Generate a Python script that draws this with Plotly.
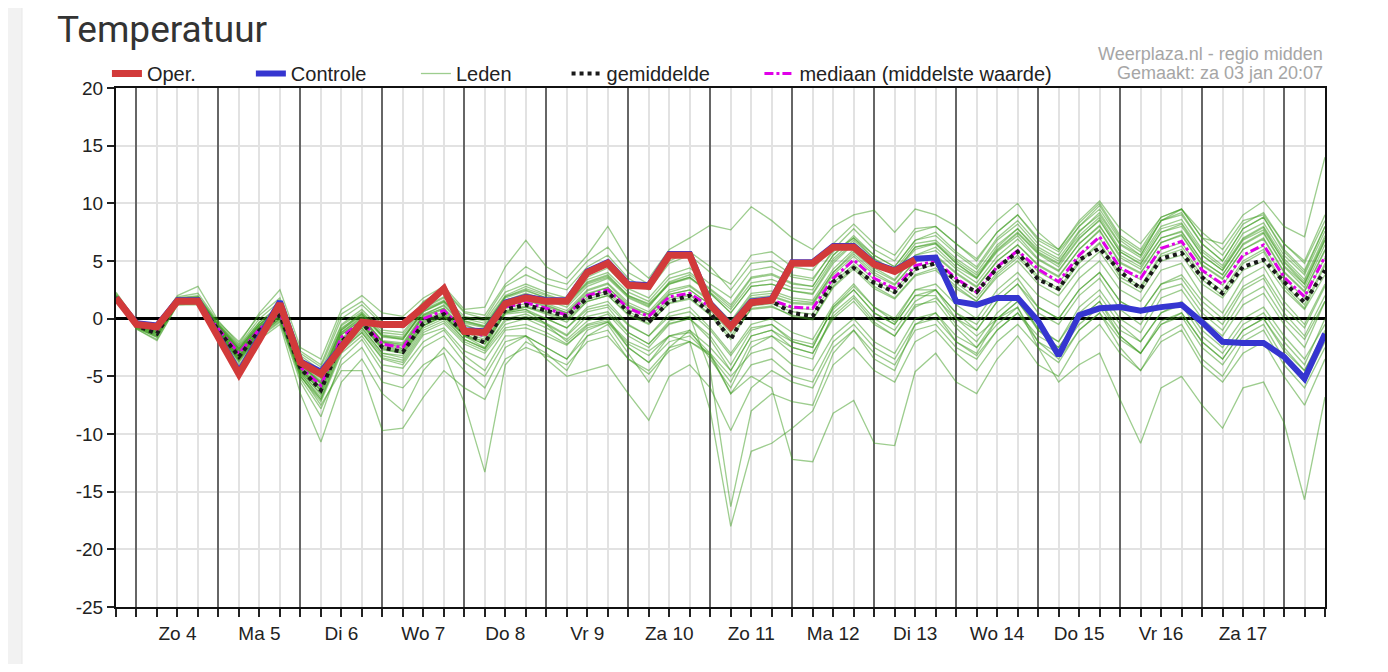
import pandas as pd
import plotly.graph_objects as go

# 6-hourly steps starting za 3 jan 18:00
start = pd.Timestamp("2026-01-03 18:00")
times = pd.date_range(start, periods=60, freq="6h")

day_labels = ["Zo 4", "Ma 5", "Di 6", "Wo 7", "Do 8", "Vr 9", "Za 10",
              "Zo 11", "Ma 12", "Di 13", "Wo 14", "Do 15", "Vr 16", "Za 17"]
day_noons = pd.date_range("2026-01-04 12:00", periods=len(day_labels), freq="D")

y_ticks = [20, 15, 10, 5, 0, -5, -10, -15, -20, -25]

oper = [1.8, -0.5, -0.7, 1.5, 1.5, -1.6, -4.8, -1.8, 1.3, -3.8,
        -4.8, -2.5, -0.3, -0.5, -0.5, 1.0, 2.6, -1.1, -1.2, 1.3,
        1.8, 1.5, 1.5, 4.0, 4.8, 2.9, 2.8, 5.5, 5.5, 1.2,
        -0.7, 1.4, 1.6, 4.8, 4.8, 6.2, 6.2, 4.7, 4.1, 5.1]

controle = [1.8, -0.4, -0.6, 1.6, 1.6, -1.5, -4.6, -1.6, 1.5, -3.7,
            -4.6, -2.4, -0.3, -0.5, -0.5, 1.0, 2.6, -1.0, -1.1, 1.4,
            1.9, 1.6, 1.6, 4.1, 4.9, 3.0, 2.9, 5.6, 5.6, 1.3,
            -0.6, 1.5, 1.7, 4.9, 4.9, 6.3, 6.3, 4.8, 4.2, 5.2,
            5.3, 1.5, 1.2, 1.8, 1.8, -0.2, -3.2, 0.3, 0.9, 1.0,
            0.7, 1.0, 1.2, -0.3, -2.0, -2.1, -2.1, -3.3, -5.2, -1.3]

gemiddelde = [1.8, -0.6, -1.3, 1.5, 1.5, -1.0, -3.3, -1.0, 0.3, -4.3,
              -6.2, -2.0, -0.3, -2.5, -2.9, -0.4, 0.4, -1.2, -2.1, 0.8,
              1.2, 0.7, 0.2, 1.8, 2.3, 0.6, -0.3, 1.5, 2.0, 0.5,
              -1.8, 1.3, 1.5, 0.5, 0.2, 3.2, 4.4, 3.1, 2.3, 4.3,
              4.8, 3.3, 2.3, 4.4, 5.8, 3.4, 2.6, 5.1, 6.1, 4.1,
              2.6, 5.2, 5.7, 3.6, 2.2, 4.5, 5.1, 3.2, 1.4, 4.2]

mediaan = [1.8, -0.5, -1.0, 1.5, 1.5, -0.9, -3.0, -0.9, 0.5, -4.2,
           -5.8, -1.6, -0.2, -2.2, -2.5, 0.0, 0.7, -1.0, -1.5, 1.0,
           1.4, 0.9, 0.3, 2.0, 2.5, 0.9, 0.2, 1.9, 2.2, 1.0,
           -0.8, 1.4, 1.6, 1.0, 0.9, 3.5, 5.1, 3.5, 2.6, 4.6,
           5.0, 3.5, 2.3, 4.5, 5.9, 4.3, 3.2, 5.5, 7.1, 4.4,
           3.5, 6.1, 6.7, 4.2, 3.0, 5.5, 6.4, 3.6, 1.9, 5.4]

# ensemble members (Leden)
leden = [
    [2.0, -0.3, -0.8, 1.7, 1.8, -0.6, -2.6, -0.5, 0.9, -3.6, -5.0, -0.8, 0.4, -1.5, -1.8, 0.8, 1.6, -0.2, -0.7, 1.9,
     2.5, 1.8, 1.3, 3.2, 3.8, 2.0, 1.2, 3.0, 3.5, 2.2, 0.5, 2.8, 3.0, 2.4, 2.1, 4.8, 6.5, 4.9, 3.9, 6.0,
     6.5, 4.8, 3.6, 5.9, 7.4, 5.6, 4.5, 6.9, 8.6, 5.8, 4.7, 7.5, 8.2, 5.5, 4.2, 6.9, 7.9, 4.9, 3.0, 6.8],
    [1.6, -0.8, -1.6, 1.3, 1.3, -1.3, -3.6, -1.4, 0.0, -5.0, -7.0, -2.6, -1.2, -3.5, -4.0, -1.4, -0.8, -2.8, -3.6, -1.0,
     -0.8, -1.5, -2.3, -0.6, -0.2, -2.0, -2.8, -1.5, -2.0, -8.0, -18.0, -11.5, -10.8, -9.5, -8.0, -4.0, -2.5, -4.5, -5.5, -2.0,
     -1.0, -3.0, -4.5, -2.0, -0.5, -2.5, -3.8, -1.0, 0.5, -1.8, -3.0, -0.2, 0.5, -2.0, -3.5, -1.0, 0.0, -2.8, -4.5, -1.0],
    [1.7, -0.6, -1.2, 1.4, 1.6, -1.0, -3.4, -1.1, 0.4, -4.6, -6.5, -2.2, -0.8, -3.0, -3.2, -0.6, 0.2, -1.8, -2.6, 0.0,
     0.4, -0.4, -1.4, 0.6, 1.0, -1.2, -2.2, -0.2, 0.2, -4.5, -16.3, -8.0, -6.5, -7.2, -7.5, -3.0, -1.0, -3.5, -4.5, -0.5,
     0.5, -2.0, -3.0, 0.0, 1.5, -0.8, -2.0, 1.0, 2.5, 0.0, -1.2, 1.8, 2.5, 0.0, -1.5, 1.2, 2.2, -0.5, -2.5, 1.5],
    [1.9, -0.4, -1.1, 1.6, 1.5, -0.8, -2.9, -0.7, 0.7, -4.0, -5.5, -1.2, 0.2, -2.0, -2.6, 0.3, 0.9, -1.5, -2.5, 0.5,
     0.8, -0.5, -2.0, -0.5, 0.0, -2.5, -3.8, -2.0, -1.5, -3.2, -6.5, -5.0, -6.0, -12.2, -12.4, -8.2, -7.1, -10.8, -11.0, -4.6,
     -3.0, -5.5, -6.5, -3.5, -1.5, -4.0, -5.0, -2.0, -0.5, -3.0, -4.5, -1.5, -0.5, -3.5, -5.0, -2.0, -1.0, -4.0, -6.0, -2.5],
    [2.3, -0.2, -0.5, 2.0, 2.8, -0.2, -2.2, 0.5, 2.5, -2.5, -3.5, 0.8, 2.0, 0.5, 0.2, 1.8, 2.8, 0.8, 1.0, 4.5,
     6.8, 4.5, 3.5, 5.5, 8.0, 5.0, 3.5, 6.0, 7.0, 8.1, 7.7, 9.7, 8.5, 7.0, 6.0, 8.0, 9.0, 9.4, 7.5, 9.5,
     9.0, 8.0, 6.5, 8.5, 10.0, 7.5, 6.0, 8.5, 10.2, 7.8, 6.5, 8.8, 9.5, 7.5, 6.0, 8.5, 9.0, 6.5, 5.0, 9.0],
    [1.8, -0.7, -1.5, 1.4, 1.4, -1.2, -3.8, -1.5, -0.2, -5.2, -7.8, -4.0, -2.5, -5.5, -6.0, -4.0, -3.0, -7.3, -13.3, -4.0,
     -2.0, -3.0, -4.5, -1.5, -0.5, -3.0, -5.5, -2.5, -1.0, -3.5, -6.0, -2.5, -1.5, -3.0, -3.5, 0.5, 2.0, 0.0, -1.0, 1.5,
     2.5, 0.5, -0.5, 2.0, 3.5, 1.0, 0.0, 2.5, 4.0, 1.5, 0.5, 3.0, 3.5, 1.0, -0.5, 2.5, 3.5, 0.5, -1.5, 2.0],
    [1.9, -0.5, -0.9, 1.5, 1.6, -0.8, -2.8, -0.7, 0.6, -3.9, -5.6, -1.3, 0.0, -2.0, -2.2, 0.3, 1.2, -0.5, -1.2, 1.3,
     1.8, 1.2, 0.5, 2.4, 3.0, 1.2, 0.4, 2.3, 2.8, 1.5, -0.3, 2.0, 2.2, 1.6, 1.4, 4.0, 5.6, 4.0, 3.0, 5.0,
     5.5, 4.0, 2.8, 5.0, 6.4, 4.6, 3.6, 6.0, 7.6, 4.8, 3.9, 6.6, 7.2, 4.6, 3.4, 6.0, 6.9, 4.0, 2.3, 5.9],
    [1.7, -0.7, -1.4, 1.4, 1.5, -1.1, -3.5, -1.2, 0.2, -4.8, -6.8, -2.5, -1.0, -3.2, -3.6, -1.0, -0.2, -2.0, -2.8, -0.5,
     0.0, -0.8, -1.8, -0.2, 0.4, -1.5, -2.5, -0.5, 0.0, -1.5, -4.0, -1.0, -0.5, -2.0, -2.5, 1.0, 2.5, 0.5, -0.5, 2.0,
     2.5, 0.5, -1.0, 1.5, 3.0, 0.5, -0.5, 2.0, 3.5, 0.8, -0.5, 2.5, 3.0, 0.5, -1.0, 1.8, 2.8, 0.0, -1.8, 1.5],
    [1.8, -0.4, -0.8, 1.6, 1.7, -0.7, -2.7, -0.6, 0.8, -3.8, -5.2, -1.0, 0.3, -1.6, -1.8, 0.6, 1.4, -0.4, -0.8, 1.6,
     2.2, 1.6, 1.0, 2.8, 3.5, 1.8, 1.0, 3.2, 3.8, 2.5, 1.0, 3.5, 3.8, 3.0, 2.8, 5.5, 7.2, 5.5, 4.5, 6.8,
     7.5, 5.8, 4.5, 7.0, 8.5, 6.5, 5.5, 8.0, 9.5, 6.8, 5.5, 8.5, 9.0, 6.5, 5.0, 7.8, 8.8, 6.0, 4.2, 8.0],
    [1.6, -0.9, -1.8, 1.2, 1.3, -1.4, -4.0, -1.6, -0.3, -5.5, -8.5, -3.5, -1.8, -4.5, -5.0, -2.5, -1.5, -3.8, -5.0, -2.0,
     -1.5, -2.5, -3.5, -1.5, -1.0, -3.5, -4.5, -2.5, -2.0, -3.0, -5.0, -3.0, -2.5, -4.0, -4.5, -1.5, 0.0, -2.0, -3.0, 0.0,
     0.5, -1.5, -2.5, 0.0, 1.5, -1.0, -2.0, 0.5, 2.0, -0.5, -2.0, 0.5, 1.2, -1.5, -3.0, -0.5, 0.5, -2.0, -4.0, 0.0],
    [1.8, -0.6, -1.1, 1.5, 1.4, -1.0, -3.2, -1.0, 0.4, -4.4, -6.0, -1.8, -0.4, -2.5, -2.8, -0.3, 0.4, -1.4, -2.0, 0.6,
     1.0, 0.4, -0.3, 1.5, 2.0, 0.3, -0.5, 1.4, 1.8, 0.4, -1.5, 0.8, 1.0, 0.3, 0.0, 2.8, 4.5, 2.8, 1.8, 3.8,
     4.4, 2.8, 1.5, 3.8, 5.3, 3.5, 2.4, 4.8, 6.5, 3.6, 2.6, 5.4, 6.0, 3.4, 2.0, 4.8, 5.8, 2.8, 0.9, 4.6],
    [2.0, -0.3, -0.6, 1.8, 1.9, -0.5, -2.4, -0.3, 1.2, -3.2, -4.5, -0.5, 0.8, -1.0, -1.2, 1.0, 1.9, 0.2, -0.2, 2.3,
     3.0, 2.3, 1.8, 3.6, 4.4, 2.6, 1.8, 3.8, 4.4, 3.0, 1.8, 4.2, 4.5, 3.6, 3.3, 6.0, 7.8, 6.0, 5.0, 7.5,
     8.0, 6.5, 5.2, 7.5, 9.0, 7.0, 6.0, 8.3, 10.0, 7.2, 6.0, 8.8, 9.5, 7.0, 5.5, 8.2, 9.2, 6.5, 4.8, 8.5],
    [1.7, -0.6, -1.3, 1.4, 1.5, -1.0, -3.3, -1.0, 0.3, -4.5, -6.2, -2.0, -0.5, -2.6, -3.0, -0.6, 0.3, -1.5, -2.2, 0.5,
     0.8, 0.0, -0.8, 1.0, 1.5, -0.5, -1.5, 0.5, 1.0, -0.8, -3.0, -0.5, 0.0, -1.2, -1.8, 1.2, 3.0, 1.0, 0.0, 2.5,
     2.5, 0.0, -1.5, 0.0, 1.0, -2.5, -5.5, -4.0, -3.0, -7.0, -10.8, -6.0, -5.0, -7.5, -9.5, -6.0, -5.5, -9.0, -15.7, -6.8],
    [1.9, -0.4, -0.9, 1.6, 1.6, -0.8, -2.9, -0.8, 0.6, -4.0, -5.6, -1.4, -0.1, -2.1, -2.4, 0.1, 0.8, -0.9, -1.4, 1.1,
     1.6, 1.0, 0.4, 2.1, 2.7, 1.0, 0.3, 2.1, 2.5, 1.2, -0.5, 1.8, 2.0, 1.4, 1.3, 4.0, 5.8, 4.2, 3.3, 5.5,
     6.2, 4.5, 3.5, 6.2, 7.8, 5.8, 4.8, 7.5, 9.2, 6.5, 5.5, 8.5, 9.5, 7.0, 6.5, 9.0, 10.2, 8.0, 7.1, 14.0],
    [1.8, -0.5, -1.0, 1.6, 1.5, -0.8, -2.9, -0.8, 0.5, -4.1, -5.7, -1.4, -0.1, -2.0, -2.3, 0.2, 0.9, -0.8, -1.3, 1.2,
     1.6, 1.1, 0.5, 2.2, 2.7, 1.1, 0.4, 2.1, 2.5, 1.2, -0.6, 1.6, 1.9, 1.3, 1.2, 3.8, 5.4, 3.8, 2.9, 5.0,
     5.4, 3.9, 2.7, 5.0, 6.4, 4.7, 3.7, 6.0, 7.7, 4.9, 4.0, 6.6, 7.3, 4.7, 3.5, 6.0, 7.0, 4.1, 2.4, 6.0],
    [1.6, -0.8, -1.5, 1.3, 1.4, -1.2, -3.6, -1.3, 0.0, -4.9, -7.5, -4.5, -4.5, -9.7, -9.5, -6.8, -4.5, -6.0, -7.0, -3.5,
     -2.5, -3.2, -4.0, -2.0, -1.5, -3.5, -4.8, -2.8, -2.0, -3.2, -5.5, -2.0, -1.5, -2.5, -3.0, 0.0, 1.5, -0.5, -1.5, 1.0,
     1.8, 0.0, -1.0, 1.5, 3.0, 1.0, 0.0, 2.5, 4.0, 1.5, 0.5, 3.0, 3.8, 1.5, 0.0, 2.8, 3.8, 1.0, -0.8, 2.8],
    [1.9, -0.4, -0.8, 1.7, 1.7, -0.6, -2.6, -0.5, 0.9, -3.6, -5.0, -0.9, 0.5, -1.4, -1.6, 0.7, 1.5, -0.3, -0.7, 1.8,
     2.4, 1.8, 1.2, 3.0, 3.6, 1.9, 1.1, 3.0, 3.6, 2.2, 0.5, 2.8, 3.0, 2.4, 2.2, 5.0, 6.6, 5.0, 4.0, 6.2,
     6.6, 5.0, 3.8, 6.0, 7.5, 5.7, 4.7, 7.0, 8.5, 5.8, 4.8, 7.5, 8.0, 5.5, 4.2, 6.8, 7.7, 5.0, 3.2, 7.0],
    [1.8, -0.6, -1.2, 1.5, 1.5, -1.0, -3.2, -1.0, 0.3, -4.4, -6.2, -2.0, -0.6, -2.7, -3.0, -0.6, 0.2, -1.5, -2.2, 0.4,
     0.6, 0.0, -0.8, 0.8, 1.2, -0.6, -1.5, 0.2, 0.6, -1.0, -3.2, -0.8, -0.5, -1.8, -2.2, 0.8, 2.5, 0.5, -0.5, 2.0,
     2.0, -0.5, -2.0, 0.5, 2.0, -1.0, -2.5, 0.0, 1.5, -1.5, -3.0, -0.5, 0.2, -2.5, -4.0, -1.5, -0.5, -3.5, -5.5, -2.0],
    [1.8, -0.5, -1.0, 1.5, 1.5, -0.9, -3.0, -0.9, 0.5, -4.2, -5.9, -1.7, -0.3, -2.3, -2.6, -0.1, 0.6, -1.1, -1.6, 0.9,
     1.3, 0.8, 0.2, 1.9, 2.4, 0.8, 0.1, 1.8, 2.1, 0.9, -0.9, 1.3, 1.5, 0.9, 0.8, 3.4, 5.0, 3.4, 2.5, 4.5,
     4.9, 3.4, 2.2, 4.4, 5.8, 4.1, 3.1, 5.4, 7.0, 4.3, 3.4, 6.0, 6.6, 4.1, 2.9, 5.4, 6.3, 3.5, 1.8, 5.3],
    [2.1, -0.3, -0.7, 1.8, 2.0, -0.4, -2.3, 0.0, 1.5, -3.0, -4.2, 0.0, 1.2, -0.5, -0.8, 1.5, 2.5, 0.5, 0.0, 2.8,
     3.8, 3.0, 2.5, 4.5, 5.5, 3.5, 2.5, 4.8, 5.5, 4.0, 3.0, 5.5, 5.8, 4.5, 4.2, 6.5, 8.2, 6.5, 5.5, 7.8,
     8.0, 6.5, 5.0, 7.5, 9.0, 6.8, 5.8, 8.0, 9.8, 7.0, 5.8, 8.5, 9.2, 6.5, 5.0, 7.8, 8.8, 5.8, 4.0, 8.0],
    [1.7, -0.7, -1.3, 1.4, 1.4, -1.1, -3.4, -1.1, 0.2, -4.6, -6.6, -2.3, -0.8, -3.0, -3.4, -0.8, 0.0, -1.8, -2.6, -0.2,
     0.2, -0.5, -1.5, 0.2, 0.6, -1.2, -2.2, -0.4, 0.0, -1.8, -4.5, -1.5, -1.0, -2.5, -3.0, 0.2, 1.8, -0.3, -1.5, 1.2,
     1.5, -0.8, -2.5, -0.5, 1.0, -2.0, -3.5, -1.0, 0.5, -2.5, -4.5, -2.0, -1.0, -4.0, -5.5, -3.0, -2.0, -5.0, -7.5, -3.5],
    [1.9, -0.5, -0.9, 1.6, 1.6, -0.7, -2.8, -0.7, 0.7, -3.9, -5.4, -1.2, 0.1, -1.9, -2.1, 0.4, 1.1, -0.6, -1.1, 1.4,
     1.9, 1.3, 0.7, 2.5, 3.1, 1.4, 0.6, 2.5, 2.9, 1.6, -0.2, 2.2, 2.4, 1.8, 1.6, 4.3, 6.0, 4.4, 3.4, 5.5,
     5.9, 4.3, 3.1, 5.4, 6.9, 5.1, 4.1, 6.5, 8.1, 5.3, 4.3, 7.0, 7.6, 5.0, 3.8, 6.4, 7.4, 4.5, 2.7, 6.4],
    [1.7, -0.8, -1.6, 1.3, 1.3, -1.3, -3.7, -1.4, -0.1, -5.0, -7.2, -3.0, -1.5, -4.0, -4.3, -2.0, -1.0, -3.2, -4.5, -1.5,
     -1.5, -3.5, -5.0, -4.5, -4.0, -6.5, -8.8, -5.0, -4.0, -6.0, -9.7, -6.0, -4.5, -5.5, -6.0, -2.5, -1.0, -3.0, -4.0, -1.0,
     -0.5, -2.5, -3.5, -1.0, 0.5, -1.5, -2.5, 0.0, 1.5, -1.0, -2.0, 0.5, 1.5, -1.0, -2.5, 0.0, 1.0, -1.5, -3.5, -0.5],
    [2.0, -0.3, -0.7, 1.7, 1.9, -0.5, -2.5, -0.3, 1.0, -3.4, -4.8, -0.6, 0.6, -1.2, -1.4, 0.9, 1.8, 0.0, -0.4, 2.0,
     2.8, 2.1, 1.5, 3.4, 4.0, 2.3, 1.5, 3.5, 4.0, 2.6, 1.2, 3.6, 3.9, 3.1, 2.8, 5.5, 7.0, 5.5, 4.5, 6.8,
     7.2, 5.6, 4.3, 6.8, 8.2, 6.2, 5.2, 7.6, 9.0, 6.4, 5.3, 8.0, 8.6, 6.0, 4.6, 7.4, 8.3, 5.5, 3.8, 7.6],
    [1.8, -0.6, -1.2, 1.5, 1.5, -1.0, -3.3, -1.0, 0.3, -4.4, -6.3, -2.0, -0.5, -2.6, -2.9, -0.4, 0.3, -1.4, -2.0, 0.6,
     1.0, 0.5, -0.1, 1.5, 2.0, 0.4, -0.4, 1.3, 1.7, 0.3, -1.8, 0.9, 1.1, 0.2, -0.1, 2.7, 4.3, 2.6, 1.7, 3.7,
     4.2, 2.6, 1.5, 3.6, 5.0, 3.0, 2.0, 4.3, 5.8, 3.3, 2.3, 5.0, 5.5, 3.0, 1.8, 4.2, 5.0, 2.5, 0.8, 3.8],
    [1.6, -0.9, -1.9, 1.2, 1.2, -1.5, -4.3, -1.8, -0.5, -6.5, -10.7, -5.5, -3.5, -6.5, -8.0, -4.5, -2.5, -4.5, -6.0, -2.5,
     -1.5, -2.5, -3.5, -1.0, -0.3, -2.5, -3.8, -1.5, -1.0, -2.5, -4.5, -1.5, -1.0, -2.0, -2.5, 1.0, 2.8, 1.0, -0.3, 2.5,
     3.0, 1.2, 0.0, 2.5, 4.0, 2.0, 1.0, 3.5, 5.0, 2.5, 1.5, 4.2, 4.8, 2.0, 0.5, 3.5, 4.5, 1.5, -0.5, 3.0],
    [2.2, -0.2, -0.6, 1.9, 2.2, -0.3, -2.0, 0.3, 1.8, -2.8, -4.0, 0.4, 1.5, -0.3, -0.5, 1.4, 2.6, 0.6, 0.3, 3.0,
     4.5, 3.5, 3.0, 5.0, 6.2, 4.0, 3.0, 5.0, 5.8, 4.5, 2.5, 4.8, 5.0, 3.8, 3.5, 5.8, 7.0, 5.2, 4.0, 6.2,
     6.5, 4.8, 3.5, 5.8, 7.2, 5.2, 4.2, 6.5, 8.0, 5.5, 4.5, 7.0, 7.5, 5.0, 3.8, 6.5, 7.5, 4.6, 3.0, 6.8],
    [1.8, -0.5, -1.0, 1.5, 1.6, -0.9, -3.1, -0.9, 0.4, -4.3, -6.0, -1.9, -0.4, -2.4, -2.7, -0.2, 0.5, -1.2, -1.8, 0.7,
     1.1, 0.6, 0.0, 1.7, 2.2, 0.6, -0.2, 1.6, 2.0, 0.7, -1.2, 1.1, 1.3, 0.6, 0.4, 3.1, 4.7, 3.1, 2.2, 4.2,
     4.7, 3.1, 1.8, 4.0, 5.5, 3.7, 2.6, 5.0, 6.6, 3.9, 2.8, 5.6, 6.3, 3.7, 2.4, 5.0, 6.0, 3.0, 1.2, 4.8],
    [1.7, -0.7, -1.4, 1.4, 1.4, -1.2, -3.5, -1.2, 0.1, -4.7, -7.0, -2.8, -1.2, -3.4, -3.8, -1.2, -0.4, -2.2, -3.0, -0.8,
     -0.5, -1.2, -2.2, -0.8, -0.3, -2.2, -3.2, -1.5, -1.2, -3.0, -6.5, -4.0, -3.5, -5.0, -5.5, -2.0, -0.5, -2.5, -3.5, -0.5,
     0.0, -2.0, -3.2, -1.0, 0.5, -2.0, -3.0, -0.5, 1.0, -1.5, -3.0, -0.5, 0.5, -2.0, -3.5, -1.0, 0.0, -2.5, -4.5, -1.2],
    [1.9, -0.4, -0.8, 1.6, 1.8, -0.6, -2.6, -0.5, 0.9, -3.7, -5.1, -1.0, 0.4, -1.5, -1.7, 0.6, 1.5, -0.2, -0.6, 1.9,
     2.6, 2.0, 1.4, 3.1, 3.7, 2.0, 1.3, 3.1, 3.6, 2.3, 0.8, 3.1, 3.4, 2.7, 2.5, 5.2, 6.8, 5.2, 4.2, 6.5,
     6.8, 5.2, 4.0, 6.4, 7.8, 6.0, 5.0, 7.2, 8.8, 6.0, 5.0, 7.8, 8.3, 5.8, 4.4, 7.0, 8.0, 5.2, 3.4, 7.2],
]

font = "Liberation Sans, Arial, sans-serif"
nb = "\u00a0"  # extra room after legend entries, like the original legend
fig = go.Figure()

# empty trace that carries the overlaid day axis (dark line at every midnight)
fig.add_trace(go.Scatter(x=[times[0]], y=[None], xaxis="x2", mode="lines",
                         showlegend=False, hoverinfo="skip"))

for k, member in enumerate(leden):
    fig.add_trace(go.Scatter(
        x=times, y=member, mode="lines", name="Leden" + nb * 9,
        line=dict(color="rgba(60,155,30,0.5)", width=1.3),
        legendgroup="leden", showlegend=(k == 0), legendrank=3,
        hoverinfo="skip"))

fig.add_trace(go.Scatter(x=times, y=mediaan, mode="lines",
                         name="mediaan (middelste waarde)", legendrank=5,
                         line=dict(color="#e000e8", width=3, dash="dashdot")))
fig.add_trace(go.Scatter(x=times, y=gemiddelde, mode="lines", name="gemiddelde" + nb * 8,
                         legendrank=4,
                         line=dict(color="#1a1a1a", width=4, dash="dot")))
fig.add_trace(go.Scatter(x=times, y=controle, mode="lines", name="Controle" + nb * 8,
                         legendrank=2, line=dict(color="#3535d0", width=6)))
fig.add_trace(go.Scatter(x=times[:len(oper)], y=oper, mode="lines", name="Oper." + nb * 9,
                         legendrank=1, line=dict(color="#d23a3a", width=7)))

# grey strip at the left page edge
shapes = [dict(type="rect", xref="paper", yref="paper",
               x0=-120 / 1209, x1=-94 / 1209, y0=-0.2, y1=1.2,
               fillcolor="#f2f2f2", line=dict(color="#e8e8e8", width=1), layer="below")]

note_style = dict(xref="paper", yref="paper", x=1.0, xanchor="right", yanchor="middle",
                  showarrow=False, font=dict(size=18, color="#a6a6a6"))

fig.update_layout(
    width=1372, height=656,
    paper_bgcolor="white", plot_bgcolor="white",
    margin=dict(l=108, r=55, t=80, b=57),
    font=dict(family=font, size=19, color="#222"),
    title=dict(text="Temperatuur", x=49 / 1372, xref="container", xanchor="left",
               y=1 - 8 / 656, yanchor="top",
               font=dict(family="Roboto, sans-serif", size=37, color="#333")),
    showlegend=True,
    legend=dict(orientation="h", x=-0.0075, xanchor="left", y=1.0655, yanchor="top",
                font=dict(size=20, color="#222"), bgcolor="rgba(0,0,0,0)",
                itemwidth=30, tracegroupgap=0),
    shapes=shapes,
    annotations=[
        dict(text="Weerplaza.nl - regio midden", y=1 + 34 / 519, **note_style),
        dict(text="Gemaakt: za 03 jan 20:07", y=1 + 15 / 519, **note_style),
    ],
    xaxis=dict(
        range=[times[0], times[-1]],
        tickmode="array", tickvals=day_noons, ticktext=day_labels,
        showgrid=False, ticks="outside", ticklen=8, tickcolor="#222", tickwidth=1.5,
        tickfont=dict(size=19, color="#222"),
        minor=dict(tickmode="linear", tick0=times[0], dtick=6 * 3600 * 1000,
                   ticks="outside", ticklen=8, tickcolor="#222", tickwidth=1.5,
                   showgrid=True, gridcolor="#e2e2e2", gridwidth=1.5),
        showline=True, linecolor="#111", linewidth=2, mirror=True, zeroline=False),
    xaxis2=dict(
        overlaying="x", anchor="y", side="bottom",
        range=[times[0], times[-1]],
        tickmode="linear", tick0="2026-01-04 00:00:00", dtick=24 * 3600 * 1000,
        showgrid=True, gridcolor="#666666", gridwidth=1.5,
        showticklabels=False, ticks="", showline=False, zeroline=False),
    yaxis=dict(
        range=[-25, 20], tickmode="array", tickvals=y_ticks,
        ticktext=[str(v) for v in y_ticks],
        showgrid=True, gridcolor="#e2e2e2", gridwidth=1.5,
        zeroline=True, zerolinecolor="#000", zerolinewidth=3,
        ticks="outside", ticklen=7, tickcolor="#222", tickwidth=1.5,
        tickfont=dict(size=19, color="#222"),
        showline=True, linecolor="#111", linewidth=2, mirror=True),
)

fig.write_html("out.html")
